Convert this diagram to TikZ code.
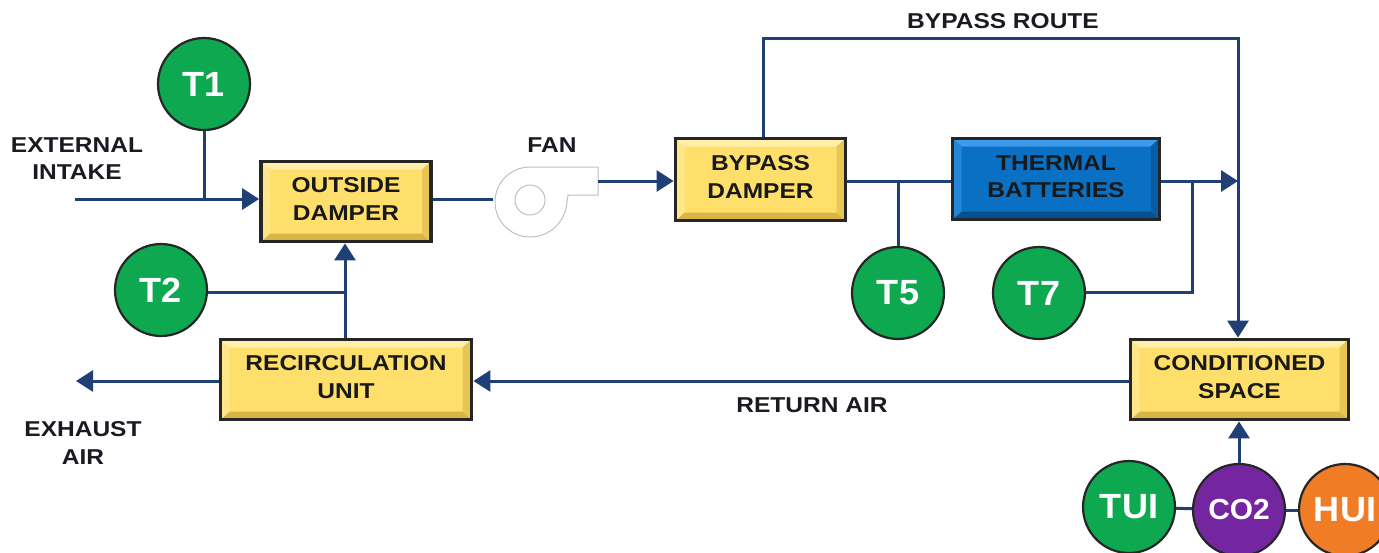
\documentclass[tikz,border=0pt]{standalone}
\usepackage{fontspec}
\setmainfont{Liberation Sans}[FakeStretch=1.03]
\newfontfamily\capfont{Liberation Sans}[FakeStretch=1.14]
\usetikzlibrary{arrows.meta,calc}
\definecolor{flow}{HTML}{1F3F75}
\definecolor{gyel}{HTML}{FFDF6B}
\definecolor{gyellight}{HTML}{FFEFA8}
\definecolor{gyeldark}{HTML}{D9B548}
\definecolor{tblue}{HTML}{0A70C4}
\definecolor{tbluelight}{HTML}{3C9BEA}
\definecolor{tbluedark}{HTML}{07508F}
\definecolor{sgreen}{HTML}{0DA84F}
\definecolor{spurple}{HTML}{7426A0}
\definecolor{sorange}{HTML}{F07C26}
\definecolor{labelink}{HTML}{1A1A22}
\tikzset{
  x=1pt,y=-1pt,
  bevelbox/.style n args={3}{draw=black!85,line width=3.8pt,fill=#1,inner sep=0pt,
    minimum width=0pt,align=center,text=black!90,text depth=5pt,
    font=\capfont\fontsize{21.5}{27.5}\selectfont\bfseries,
    path picture={
      \coordinate (sw) at (path picture bounding box.south west);
      \coordinate (ne) at (path picture bounding box.north east);
      \coordinate (nw) at (path picture bounding box.north west);
      \coordinate (se) at (path picture bounding box.south east);
      \fill[#2] (nw) -- (ne) -- ($(ne)+(-9,8)$) -- ($(nw)+(9,8)$) -- cycle;
      \fill[#3] (sw) -- (se) -- ($(se)+(-9,-8)$) -- ($(sw)+(9,-8)$) -- cycle;
      \fill[#3!60!#1] (se) -- (ne) -- ($(ne)+(-9,8)$) -- ($(se)+(-9,-8)$) -- cycle;
      \fill[#2!50!#1] (sw) -- (nw) -- ($(nw)+(9,8)$) -- ($(sw)+(9,-8)$) -- cycle;
    }},
  yellowbox/.style={bevelbox={gyel}{gyellight}{gyeldark}},
  bluebox/.style={bevelbox={tblue}{tbluelight}{tbluedark}},
  sensor/.style={circle,draw=black!85,line width=2.2pt,minimum size=92pt,inner sep=0pt,
    text=white,font=\fontsize{35}{35}\selectfont\bfseries},
  flowline/.style={draw=flow,line width=3pt},
  flowarrow/.style={flowline,-{Triangle[length=17pt,width=21pt]}},
  caption/.style={text=labelink,align=center,font=\capfont\fontsize{21.5}{27.5}\selectfont\bfseries},
  fanline/.style={draw=black!25,line width=1pt},
}
\begin{document}
\begin{tikzpicture}
\useasboundingbox (0,0) rectangle (1379,552);
\clip (0,0) rectangle (1379,552);
% boxes
\node[yellowbox,minimum width=170pt,minimum height=80pt] (outside) at (346,201.5) {OUTSIDE\\DAMPER};
\node[yellowbox,minimum width=170pt,minimum height=82pt] (bypass) at (760.5,179.5) {BYPASS\\DAMPER};
\node[bluebox,minimum width=207pt,minimum height=81pt] (thermal) at (1056,179) {THERMAL\\BATTERIES};
\node[yellowbox,minimum width=251pt,minimum height=80pt] (recirc) at (346,379.5) {RECIRCULATION\\UNIT};
\node[yellowbox,minimum width=218pt,minimum height=80pt] (space) at (1239.5,379.5) {CONDITIONED\\SPACE};
% free ends and junctions
\coordinate (intake) at (75,199);
\coordinate (exhaust) at (76,381);
\coordinate (t1j) at (204,199);
\coordinate (t2j) at (345,292);
\coordinate (fanin) at (493,199);
\coordinate (fanout) at (598,181);
\coordinate (routeL) at (763,38);
\coordinate (routeR) at (1238,38);
\coordinate (mix) at (1238,181);
\coordinate (t7a) at (1192,292);
\coordinate (t7b) at (1192,181);
% fan
\node[circle,fanline,draw,minimum size=30pt,inner sep=0pt] (faneye) at (530,200) {};
\draw[fanline] (598,167) -- (530,167) arc[start angle=-90,end angle=-270,radius=35]
  arc[start angle=90,delta angle=-85,radius=37] -- (568,195) -- (598,195) -- cycle;
% connectors
\draw[flowarrow] (intake) -- (outside.west |- intake);
\draw[flowarrow] (recirc.north -| t2j) -- (outside.south -| t2j);
\draw[flowarrow] (recirc.west |- exhaust) -- (exhaust);
\draw[flowline] (outside.east |- fanin) -- (fanin);
\draw[flowarrow] (fanout) -- (bypass.west |- fanout);
\draw[flowline] (bypass.north -| routeL) -- (routeL) -- (routeR) -- (mix);
\draw[flowarrow] (mix) -- (space.north -| mix);
\draw[flowline] (bypass.east |- mix) -- (thermal.west |- mix);
\draw[flowarrow] (thermal.east |- mix) -- (mix);
\draw[flowarrow] (space.west |- exhaust) -- (recirc.east |- exhaust);
% sensors
\node[sensor,fill=sgreen] (t1) at (204,84) {T1};
\node[sensor,fill=sgreen] (t2) at (161,290) {T2};
\node[sensor,fill=sgreen] (t5) at (898,293) {T5};
\node[sensor,fill=sgreen] (t7) at (1039,293) {T7};
\draw[flowline] (t1) -- (t1j);
\draw[flowline] (t2.east |- t2j) -- (t2j);
\draw[flowline] (t5) -- (t5 |- mix);
\draw[flowline] (t7.east |- t7a) -- (t7a) -- (t7b);
\node[sensor,fill=sgreen] (tui) at (1129,507) {TUI};
\node[sensor,fill=spurple,font=\fontsize{29}{29}\selectfont\bfseries] (co2) at (1239,510) {CO2};
\node[sensor,fill=sorange] (hui) at (1345,510) {HUI};
\draw[flowarrow] (co2) -- (space.south -| co2);
\draw[flowline] (tui) -- (co2);
\draw[flowline] (co2) -- (hui);
% captions
\node[caption] (lbl1) at (1003,21) {BYPASS ROUTE};
\node[caption] (lbl2) at (552,145) {FAN};
\node[caption] (lbl3) at (77,158.5) {EXTERNAL\\INTAKE};
\node[caption] (lbl4) at (812,405) {RETURN AIR};
\node[caption] (lbl5) at (83,443) {EXHAUST\\AIR};
\end{tikzpicture}
\end{document}
